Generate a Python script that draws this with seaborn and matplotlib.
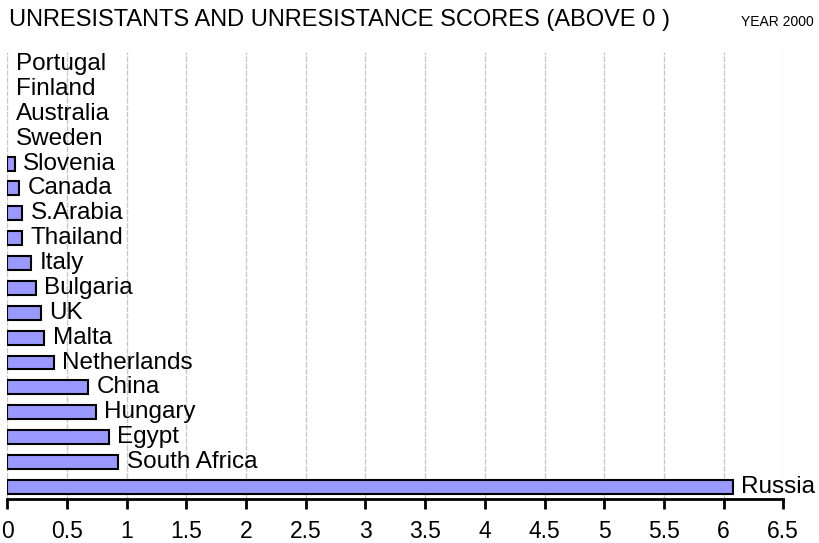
import pandas as pd
import seaborn as sns
import matplotlib.pyplot as plt
import numpy as np

countries = ['Portugal', 'Finland', 'Australia', 'Sweden', 'Slovenia', 'Canada',
             'S.Arabia', 'Thailand', 'Italy', 'Bulgaria', 'UK', 'Malta',
             'Netherlands', 'China', 'Hungary', 'Egypt', 'South Africa', 'Russia']
scores = [0, 0, 0, 0, 0.065, 0.10, 0.125, 0.125, 0.20, 0.24, 0.28, 0.31,
          0.39, 0.68, 0.74, 0.85, 0.93, 6.08]
x_ticks = [0, 0.5, 1, 1.5, 2, 2.5, 3, 3.5, 4, 4.5, 5, 5.5, 6, 6.5]
x_tick_labels = ['0', '0.5', '1', '1.5', '2', '2.5', '3', '3.5', '4', '4.5',
                 '5', '5.5', '6', '6.5']

df = pd.DataFrame({'country': countries, 'score': scores})

sns.set_style('white')
plt.rcParams['font.family'] = ['Liberation Sans', 'DejaVu Sans']
plt.rcParams['text.color'] = 'black'
plt.rcParams['xtick.color'] = 'black'

fig = plt.figure(figsize=(8.2, 5.43), dpi=100)
ax = fig.add_axes([0.0089, 0.0805, 0.9463, 0.8243])

sns.barplot(data=df, x='score', y='country', orient='h', color='#9999ff',
            saturation=1, width=0.56, edgecolor='black', linewidth=1.5, ax=ax)

# hide the empty (zero) bars so no stray edge line shows
for p in ax.patches:
    if p.get_width() == 0:
        p.set_visible(False)

# country name to the right of each bar
for i, (c, v) in enumerate(zip(countries, scores)):
    ax.annotate(c, xy=(v, i), xytext=(6, 0), textcoords='offset points',
                ha='left', va='center', fontsize=17.5, color='black')

ax.set_xlim(0, 6.5)
ax.set_ylim(17.5, -0.5)
ax.set_xticks(x_ticks)
ax.set_xticklabels(x_tick_labels, fontsize=16.5)
ax.set_yticks([])
ax.set_xlabel('')
ax.set_ylabel('')

ax.xaxis.grid(True, color='#c8c8c8', linestyle=(0, (4, 1)), linewidth=1)
ax.set_axisbelow(True)
for s in ['top', 'right', 'left']:
    ax.spines[s].set_visible(False)
ax.spines['bottom'].set_color('black')
ax.spines['bottom'].set_linewidth(2)
ax.tick_params(axis='x', direction='out', length=7, width=2, color='black',
               pad=8, bottom=True)

fig.text(0.011, 0.963, 'UNRESISTANTS AND UNRESISTANCE SCORES (ABOVE 0 )',
         ha='left', va='center', fontsize=17)
fig.text(0.992, 0.96, 'YEAR 2000', ha='right', va='center', fontsize=10)

fig.savefig('out.png', dpi=100)
